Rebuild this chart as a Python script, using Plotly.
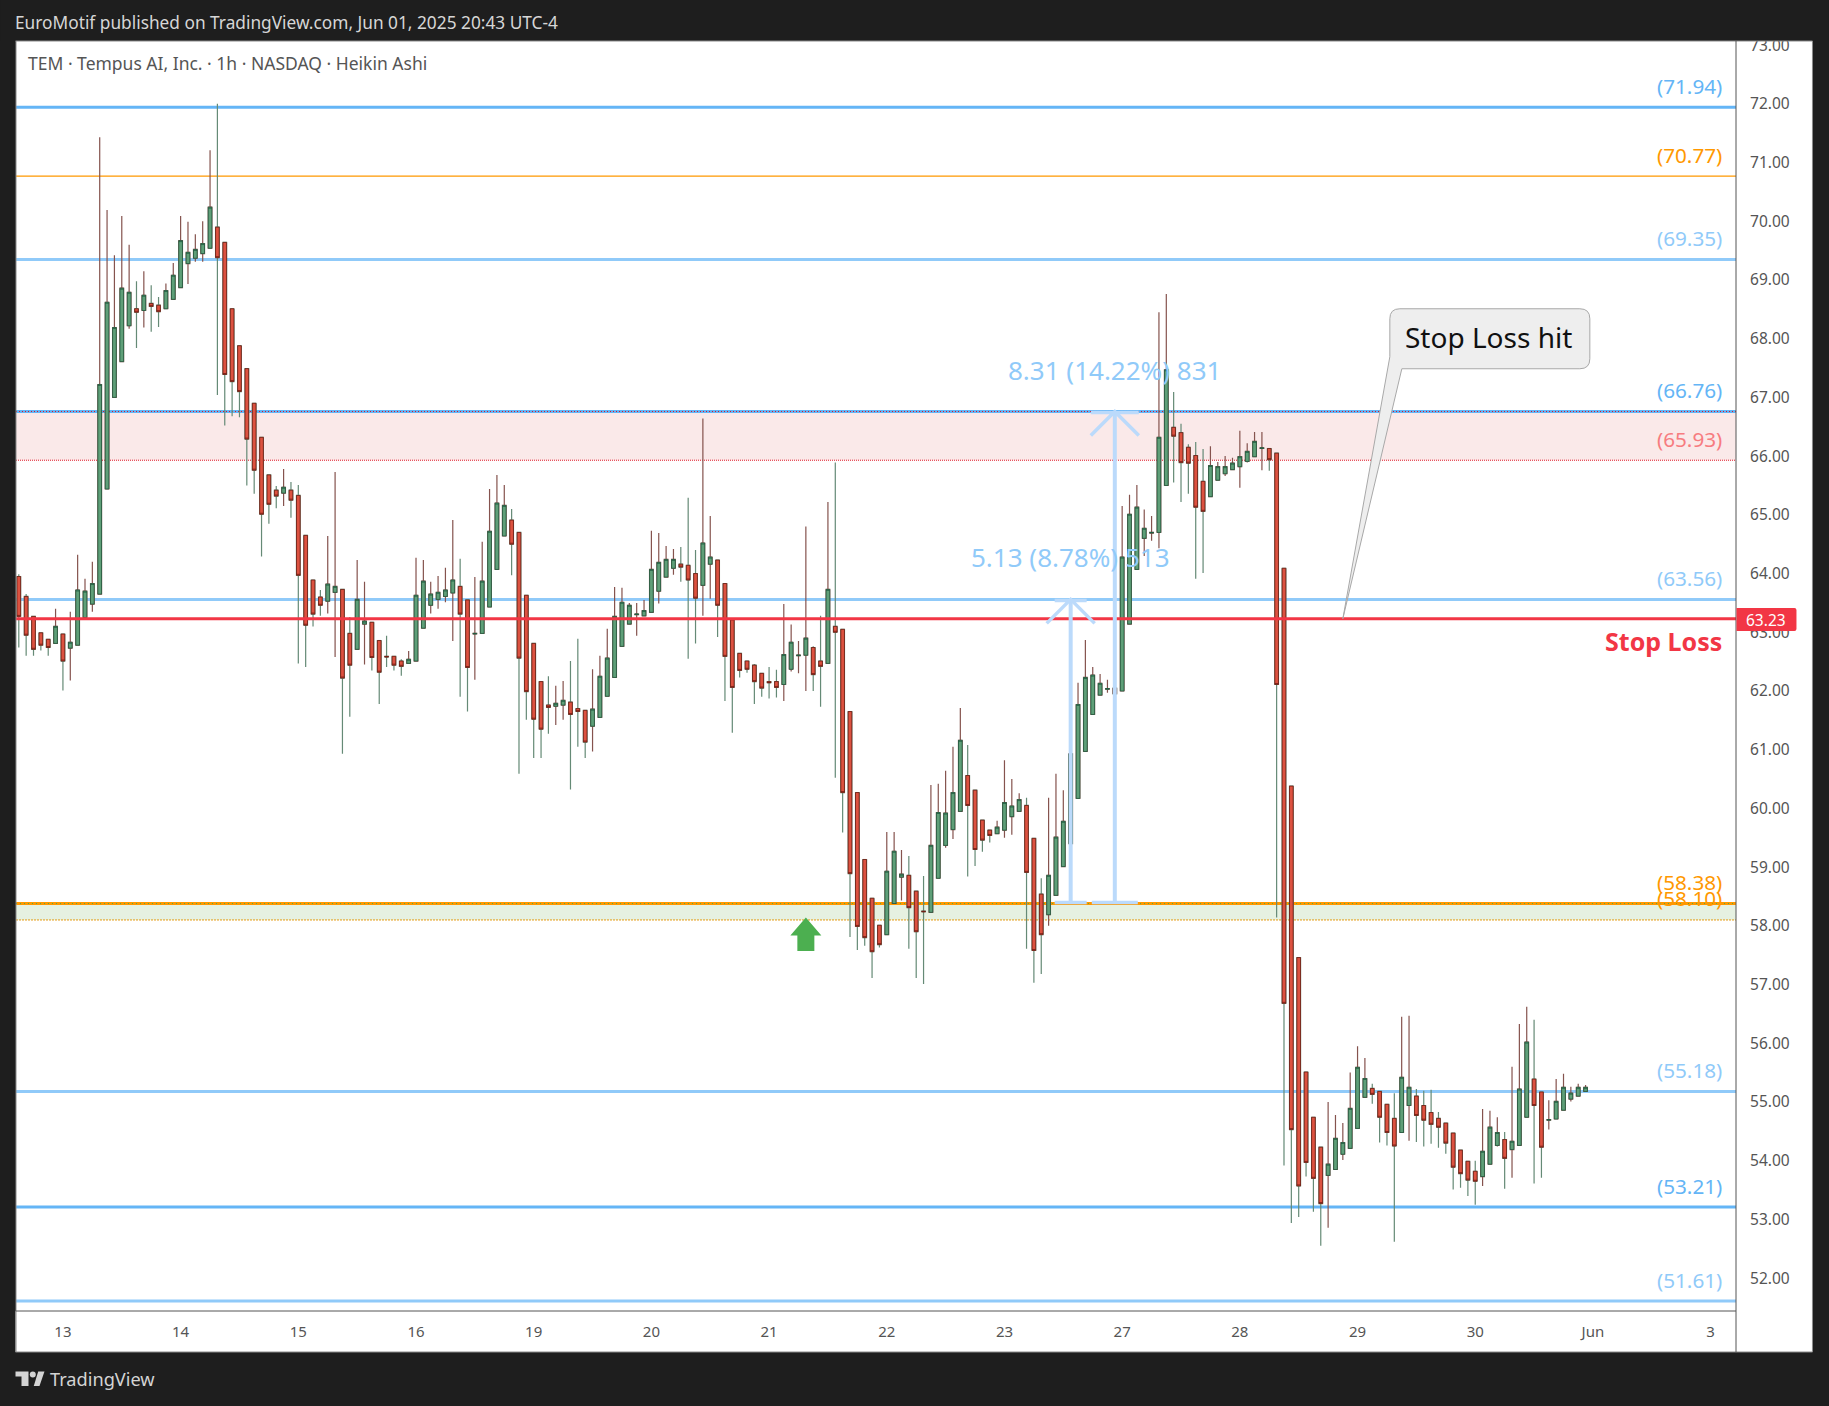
import plotly.graph_objects as go

opens = [63.95,63.61,63.27,62.99,62.88,62.81,62.97,62.73,62.78,63.25,
63.48,63.65,65.44,67.00,67.61,68.22,68.51,68.48,68.60,68.57,
68.51,68.67,68.87,69.28,69.37,69.45,69.54,69.90,69.64,68.51,
67.88,67.49,66.90,66.32,65.68,65.42,65.37,65.42,65.33,64.65,
63.89,63.60,63.53,63.68,63.73,62.98,62.71,63.14,63.17,62.86,
62.59,62.59,62.51,62.47,62.51,63.07,63.46,63.56,63.61,63.67,
63.78,63.55,62.97,62.98,63.43,64.07,64.64,64.91,64.70,63.63,
62.81,62.16,61.76,61.74,61.76,61.81,61.70,61.67,61.40,61.55,
61.91,62.23,62.76,63.14,63.30,63.28,63.34,63.70,63.94,64.09,
64.16,64.14,64.00,63.80,64.16,64.23,63.83,63.21,62.64,62.51,
62.44,62.30,62.16,62.16,62.11,62.37,62.60,62.61,62.74,62.51,
62.47,63.10,63.05,61.65,60.27,59.13,58.47,58.01,57.85,58.38,
58.83,58.86,58.59,58.25,58.23,58.81,59.37,59.64,59.95,60.56,
60.31,59.80,59.63,59.57,59.63,59.86,59.95,60.05,59.49,58.54,
58.19,58.52,59.01,59.40,60.17,60.97,61.60,61.93,62.03,62.05,
62.00,63.14,64.07,64.60,64.69,64.70,65.50,66.49,66.40,66.15,
66.01,65.57,65.31,65.59,65.70,65.77,65.82,65.91,65.99,66.13,
66.13,66.05,64.09,60.38,57.46,55.51,54.74,54.23,53.75,53.85,
54.11,54.21,54.55,55.08,55.23,55.18,54.96,54.72,54.48,54.94,
55.10,54.94,54.82,54.72,54.64,54.47,54.18,53.99,53.82,53.73,
53.94,54.26,54.36,54.19,54.26,54.74,55.39,55.17,54.69,54.71,
54.86,55.05,55.10,55.18]

closes = [63.27,62.95,62.71,62.78,62.74,63.10,62.51,62.83,63.72,63.70,
63.83,67.22,68.62,68.19,68.86,68.79,68.45,68.74,68.55,68.46,
68.82,69.08,69.67,69.47,69.52,69.62,70.24,69.38,67.39,67.27,
67.10,66.29,65.76,65.01,65.18,65.32,65.47,65.25,63.97,63.12,
63.31,63.46,63.82,63.78,62.22,62.44,63.56,63.19,62.57,62.32,
62.58,62.44,62.42,62.54,63.63,63.87,63.65,63.68,63.72,63.89,
63.31,62.40,62.98,63.87,64.72,65.20,65.16,64.50,62.56,61.99,
61.52,61.35,61.72,61.79,61.84,61.60,61.65,61.13,61.69,62.25,
62.56,63.27,63.51,63.46,63.31,63.37,64.07,64.19,64.24,64.24,
64.11,63.89,63.58,64.52,64.28,63.46,62.59,62.06,62.35,62.37,
62.16,62.05,62.14,62.06,62.62,62.83,62.61,62.90,62.28,62.42,
63.73,63.00,60.27,58.89,57.99,57.80,57.56,57.68,58.93,59.27,
58.88,58.31,57.90,58.24,59.37,59.93,59.92,60.27,61.16,60.05,
59.30,59.46,59.54,59.68,60.10,60.04,60.15,58.91,57.58,57.85,
58.86,59.51,59.78,60.93,61.77,62.23,62.27,62.13,62.04,61.95,
64.28,65.01,65.13,64.77,64.70,66.32,67.47,66.34,65.89,65.88,
65.13,65.06,65.84,65.82,65.82,65.88,65.99,66.08,66.25,66.14,
65.94,62.11,56.68,54.53,53.57,53.97,53.70,53.27,53.94,54.38,
54.31,54.89,55.59,55.40,55.13,54.74,54.48,54.25,55.42,55.25,
54.77,54.69,54.62,54.57,54.30,53.89,53.78,53.67,53.65,54.16,
54.57,54.48,54.04,54.33,55.22,56.02,54.94,54.23,54.70,55.01,
55.25,55.15,55.25,55.25]

highs = [63.99,63.65,63.27,62.99,62.88,63.40,62.97,63.35,64.32,63.91,
64.20,71.43,70.19,69.42,70.09,69.60,68.98,69.15,68.91,68.71,
68.94,69.29,70.09,69.99,69.78,70.00,71.21,72.00,69.64,68.51,
67.88,67.49,66.90,66.32,65.68,65.49,65.78,65.56,65.51,64.65,
63.89,63.72,64.64,65.73,63.73,63.26,64.23,63.86,63.17,62.86,
62.94,62.59,62.54,62.68,64.27,64.23,63.86,63.96,64.10,64.91,
64.25,63.55,63.94,64.54,65.44,65.68,65.51,65.10,64.70,63.63,
62.81,62.16,62.25,62.09,62.17,62.51,62.89,61.67,62.37,62.60,
63.06,63.77,63.76,63.50,63.50,63.55,64.73,64.69,64.47,64.42,
64.45,65.29,64.40,66.64,64.98,64.23,63.83,63.21,62.64,62.51,
62.46,62.30,62.41,62.36,63.48,63.13,62.85,64.80,62.76,63.28,
65.22,65.89,63.05,61.65,60.27,59.13,58.47,58.01,59.60,59.60,
59.29,59.19,58.59,58.85,60.40,60.42,60.64,61.05,61.71,61.08,
60.31,59.80,59.63,59.79,60.82,60.50,60.26,60.18,59.49,58.81,
60.18,60.59,60.31,61.50,62.14,62.87,62.41,62.29,62.19,62.05,
65.15,65.34,65.51,65.09,64.98,68.45,68.76,67.09,66.55,66.20,
66.24,66.12,66.17,65.90,66.00,65.97,66.43,66.22,66.41,66.41,
66.13,66.05,64.09,60.38,57.46,55.51,54.74,54.23,55.00,54.78,
54.64,55.50,55.95,55.75,55.31,55.18,54.96,55.15,56.45,56.47,
55.22,55.19,55.21,54.83,54.64,54.47,54.18,53.99,54.00,54.88,
54.85,54.74,54.49,55.60,56.33,56.62,56.40,55.17,55.03,55.39,
55.48,55.26,55.31,55.29]

lows = [62.74,62.60,62.60,62.69,62.60,62.81,62.01,62.18,62.78,63.25,
63.35,63.65,65.44,67.00,67.61,68.17,67.84,68.19,68.12,68.20,
68.51,68.67,68.87,68.93,69.31,69.31,69.54,67.04,66.52,66.68,
66.66,65.50,65.36,64.29,64.85,65.11,65.15,64.95,62.47,62.41,
63.10,63.28,63.32,62.58,60.93,61.56,62.71,62.45,62.35,61.78,
62.41,62.35,62.26,62.47,62.51,63.07,63.32,63.40,63.51,62.85,
61.90,61.65,62.19,62.98,63.43,64.07,64.64,63.97,60.59,61.51,
60.86,60.86,61.27,61.42,61.51,60.32,61.05,60.86,60.97,61.55,
61.91,62.23,62.76,63.14,62.94,63.28,63.34,63.49,63.94,63.98,
63.86,62.55,62.81,63.28,63.57,62.92,61.83,61.29,62.23,62.31,
61.78,61.90,61.87,61.89,61.83,62.33,62.30,62.00,62.00,61.73,
62.47,60.52,59.59,57.81,57.59,57.66,57.11,57.63,57.85,58.38,
58.43,57.61,57.11,57.01,58.23,58.81,59.33,59.48,59.95,58.84,
59.02,59.26,59.42,59.57,59.50,59.55,59.95,57.61,57.03,57.18,
58.00,58.52,59.01,59.40,60.17,60.97,61.60,61.93,61.97,61.95,
62.00,63.14,64.07,64.30,64.56,64.43,65.50,65.55,65.22,65.36,
63.91,64.01,65.31,65.59,65.66,65.77,65.46,65.89,65.99,65.76,
65.75,58.14,53.92,52.94,53.04,53.73,53.13,52.55,52.86,53.85,
54.01,54.21,54.55,55.08,54.97,54.31,54.26,52.62,54.48,54.34,
54.32,54.24,54.29,54.22,54.12,53.51,53.54,53.40,53.25,53.57,
53.94,54.24,53.52,53.71,54.26,54.74,53.61,53.71,54.53,54.71,
54.86,55.01,55.10,55.18]

day_labels = ["13","14","15","16","19","20","21","22","23","27","28","29","30","Jun","3"]
day_first_bar = [6,22,38,54,70,86,102,118,134,150,166,182,198,214,230]

level_values = [71.94,70.77,69.35,66.76,65.93,63.56,58.38,58.10,55.18,53.21,51.61]
level_colors = ["#64b5f6","#ff9800","#90caf9","#64b5f6","#f77c80","#90caf9","#ff9800","#ff9800","#90caf9","#64b5f6","#90caf9"]
level_widths = [3,1.2,3,3,0,3,3,0,3,3,3]

stop_price = 63.23
FONT = "Noto Sans"
TEAL_W, RED_W = "#85534e", "#658a76"
W, H = 1829, 1406
L, R, T, B = 15.5, 1736.5, 41, 1311
PW, PH = R - L, B - T
X_RANGE = [-0.38, 233.45]
Y_RANGE = [51.44, 73.07]

def px(x): return (x - L) / PW
def py(y): return 1 - (y - T) / PH

x = list(range(len(opens)))
body_hi = [max(a, b) for a, b in zip(opens, closes)]
body_lo = [min(a, b) for a, b in zip(opens, closes)]

fig = go.Figure()
# wicks: up bars carry red-brown wicks, down bars green-grey ones
fig.add_trace(go.Candlestick(x=x, open=opens, high=highs, low=lows, close=closes,
    whiskerwidth=0, hoverinfo="skip", showlegend=False,
    increasing=dict(line=dict(color=TEAL_W, width=1.2), fillcolor=TEAL_W),
    decreasing=dict(line=dict(color=RED_W, width=1.2), fillcolor=RED_W)))
# bodies
fig.add_trace(go.Candlestick(x=x, open=opens, high=body_hi, low=body_lo, close=closes,
    whiskerwidth=0, hoverinfo="skip", showlegend=False,
    increasing=dict(line=dict(color="#1f5c40", width=0.8), fillcolor="#5f9f78"),
    decreasing=dict(line=dict(color="#701a12", width=0.8), fillcolor="#dc5240")))

shapes = []
def rect_paper(x0, y0, x1, y1, fill, layer="below"):
    shapes.append(dict(type="rect", xref="paper", yref="paper", x0=px(x0), x1=px(x1), y0=py(y0), y1=py(y1),
                       fillcolor=fill, line=dict(width=0), layer=layer))
def line_paper(x0, y0, x1, y1, color, layer="above"):
    shapes.append(dict(type="line", xref="paper", yref="paper", x0=px(x0), x1=px(x1), y0=py(y0), y1=py(y1),
                       line=dict(color=color, width=1), layer=layer))

# white axis strips
rect_paper(R, T, 1813, 1352, "#ffffff")
rect_paper(15, B, 1813, 1352, "#ffffff")

# bands
shapes.append(dict(type="rect", xref="paper", yref="y", x0=0, x1=1, y0=level_values[4], y1=level_values[3],
                   fillcolor="#fae9e9", line=dict(width=0), layer="below"))
shapes.append(dict(type="rect", xref="paper", yref="y", x0=0, x1=1, y0=level_values[7], y1=level_values[6],
                   fillcolor="#e6f1e1", line=dict(width=0), layer="below"))
# levels
for v, c, w in zip(level_values, level_colors, level_widths):
    if w:
        shapes.append(dict(type="line", xref="paper", yref="y", x0=0, x1=1, y0=v, y1=v,
                           line=dict(color=c, width=w), layer="below"))
for v, c, d in [(level_values[3], "#e01525", "1px,2px"), (level_values[4], "#e01525", "1px,1px"),
                (level_values[6], "#4caf50", "1px,3px"), (level_values[7], "#e39a10", "2px,1px")]:
    shapes.append(dict(type="line", xref="paper", yref="y", x0=0, x1=1, y0=v, y1=v,
                       line=dict(color=c, width=1, dash=d), layer="below"))
# stop line over the candles
shapes.append(dict(type="line", xref="paper", yref="y", x0=0, x1=1, y0=stop_price, y1=stop_price,
                   line=dict(color="#f23645", width=3), layer="above"))

# measure arrows
ARROW = "#bbdafb"
def measure(bar, p0, p1, hw_head, hw_base):
    shapes.append(dict(type="line", xref="x", yref="y", x0=bar, x1=bar, y0=p0, y1=p1,
                       line=dict(color=ARROW, width=4), layer="above"))
    shapes.append(dict(type="path", xref="x", yref="y", xsizemode="pixel", ysizemode="pixel", xanchor=bar, yanchor=p1,
                       path=f"M{-hw_head},-1 L{hw_head},-1 M-24,-24 L0,0 L24,-24",
                       line=dict(color=ARROW, width=3.5), layer="above"))
    shapes.append(dict(type="path", xref="x", yref="y", xsizemode="pixel", ysizemode="pixel", xanchor=bar, yanchor=p0,
                       path=f"M{-hw_base},1 L{hw_base},1",
                       line=dict(color=ARROW, width=3.5), layer="above"))
measure(143, level_values[6], level_values[5], 16, 16)
measure(149, level_values[6], level_values[3], 24, 23)

# green entry arrow
shapes.append(dict(type="path", xref="x", yref="y", xsizemode="pixel", ysizemode="pixel", xanchor=107, yanchor=58.14,
                   path="M0,0 L15.5,-18 L8.5,-18 L8.5,-33.5 L-8.5,-33.5 L-8.5,-18 L-15.5,-18 Z",
                   fillcolor="#4caf50", line=dict(width=0), layer="above"))
# callout bubble anchored on its tip
shapes.append(dict(type="path", xref="x", yref="y", xsizemode="pixel", ysizemode="pixel", xanchor=180, yanchor=stop_price,
                   path="M47,262 L47,300 Q47,310 57,310 L237,310 Q247,310 247,300 L247,260 Q247,250 237,250 L59,250 L0,0 Z",
                   fillcolor="#eeeeee", line=dict(color="#a8a8a8", width=1), layer="above"))

# frame
rect_paper(0, 0, W, T, "#1e1e1e", "above")
line_paper(15.5, T, 15.5, 1352, "#8a8a8a")
line_paper(15, T, 1813, T, "#8a8a8a")
line_paper(1813, T, 1813, 1352, "#8a8a8a")
line_paper(15, 1352, 1813, 1352, "#8a8a8a")
line_paper(R, T, R, 1352, "#555555")
line_paper(15, B, R, B, "#555555")

# price badge
shapes.append(dict(type="path", xref="paper", yref="paper",
    path=f"M{px(1737)},{py(608)} L{px(1795)},{py(608)} Q{px(1797)},{py(608)} {px(1797)},{py(610)} L{px(1797)},{py(629)} Q{px(1797)},{py(631)} {px(1795)},{py(631)} L{px(1737)},{py(631)} Z",
    fillcolor="#f23645", line=dict(width=0), layer="above"))

# TradingView logo
for path in [
    [(15,1371.5),(28,1371.5),(28,1386),(21,1386),(21,1376.5),(15,1376.5)],
    [(37.7,1371.5),(44,1371.5),(39,1386),(33.3,1386)],
]:
    d = "M" + " L".join(f"{px(a)},{py(b)}" for a, b in path) + " Z"
    shapes.append(dict(type="path", xref="paper", yref="paper", path=d, fillcolor="#d4d4d4", line=dict(width=0), layer="above"))
shapes.append(dict(type="circle", xref="paper", yref="paper", x0=px(29.3), x1=px(35.3), y0=py(1371.5), y1=py(1377.5),
                   fillcolor="#d4d4d4", line=dict(width=0), layer="above"))

ann = []
def note_paper(text, x, y, size, color, anchor="left", bold=False):
    ann.append(dict(text=f"<b>{text}</b>" if bold else text, xref="paper", yref="paper", x=px(x), y=py(y), xanchor=anchor, yanchor="middle",
                    showarrow=False, font=dict(family=FONT, size=size, color=color), align=anchor))
note_paper("EuroMotif published on TradingView.com, Jun 01, 2025 20:43 UTC-4", 12.5, 22.5, 17.3, "#d6d6d6")
note_paper("TEM · Tempus AI, Inc. · 1h · NASDAQ · Heikin Ashi", 25.5, 63.5, 17.5, "#555555")
note_paper("TradingView", 48, 1379, 18.2, "#d4d4d4")
note_paper("Stop Loss", 1724, 640.5, 25, "#f23645", "right", True)
note_paper(f"{stop_price:.2f}", 1767, 620, 15.5, "#ffffff", "center")

label_texts = [f"({v:.2f})" for v in level_values]
for v, c, t in zip(level_values, level_colors, label_texts):
    ann.append(dict(text=t, xref="paper", yref="y", x=px(1724), y=v, yshift=21.5,
                    xanchor="right", yanchor="middle", showarrow=False, font=dict(family=FONT, size=20.7, color=c)))

ann.append(dict(text="8.31 (14.22%) 831", xref="x", yref="paper", x=149, y=py(370), xanchor="center", yanchor="middle",
                showarrow=False, font=dict(family=FONT, size=26, color="#90caf9")))
ann.append(dict(text="5.13 (8.78%) 513", xref="x", yref="paper", x=143, y=py(557), xanchor="center", yanchor="middle",
                showarrow=False, font=dict(family=FONT, size=26, color="#90caf9")))
note_paper("Stop Loss hit", 1489, 337, 28, "#111111", "center")

fig.update_layout(
    width=W, height=H, autosize=False,
    paper_bgcolor="#1e1e1e", plot_bgcolor="#ffffff",
    margin=dict(l=L, r=W - R, t=T, b=H - B, pad=0),
    showlegend=False, boxmode="overlay", boxgap=0.5, boxgroupgap=0, hovermode=False,
    shapes=shapes, annotations=ann,
    xaxis=dict(type="linear", range=X_RANGE, rangeslider=dict(visible=False), showgrid=False, zeroline=False,
               tickmode="array", tickvals=day_first_bar, ticktext=day_labels,
               ticks="outside", ticklen=7, tickcolor="rgba(0,0,0,0)", tickfont=dict(family=FONT, size=15, color="#555555")),
    yaxis=dict(side="right", range=Y_RANGE, showgrid=False, zeroline=False, dtick=1, tick0=0, tickformat=".2f",
               ticks="outside", ticklen=10, tickcolor="rgba(0,0,0,0)", tickfont=dict(family=FONT, size=15.5, color="#555555")),
)

fig.write_html("out.html", config=dict(displayModeBar=False),
               post_script="document.body.style.margin='0';document.body.style.background='#1e1e1e';document.documentElement.style.overflow='hidden';")
